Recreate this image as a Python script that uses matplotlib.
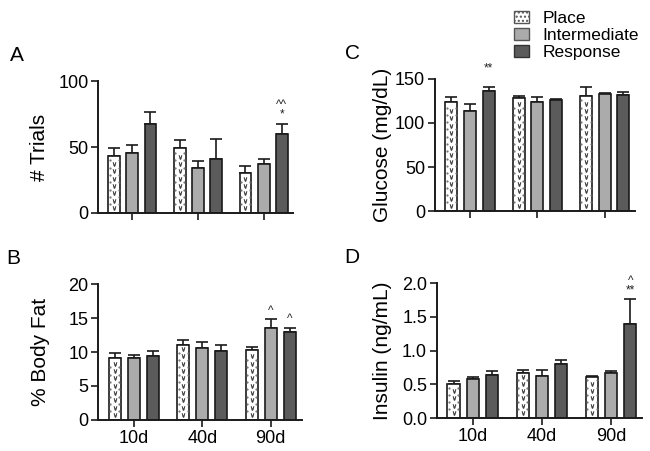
import numpy as np
import matplotlib.pyplot as plt
from matplotlib.patches import Patch

plt.rcParams['font.family'] = ['Liberation Sans', 'DejaVu Sans']

groups = ['10d', '40d', '90d']
series = ['Place', 'Intermediate', 'Response']

# panel A: # trials
trials_mean = {'Place': [43.2, 49.0, 30.4], 'Intermediate': [45.2, 33.9, 36.9], 'Response': [67.3, 41.2, 59.8]}
trials_err = {'Place': [5.8, 6.0, 5.0], 'Intermediate': [6.6, 5.8, 4.1], 'Response': [9.1, 14.8, 7.5]}

# panel B: % body fat
fat_mean = {'Place': [9.19, 11.1, 10.27], 'Intermediate': [9.19, 10.57, 13.6], 'Response': [9.43, 10.1, 12.9]}
fat_err = {'Place': [0.69, 0.7, 0.49], 'Intermediate': [0.44, 0.88, 1.3], 'Response': [0.67, 0.9, 0.7]}

# panel C: glucose
glu_mean = {'Place': [124.2, 128.4, 130.7], 'Intermediate': [113.6, 123.5, 133.3], 'Response': [136.0, 125.8, 131.8]}
glu_err = {'Place': [5.8, 1.9, 9.8], 'Intermediate': [7.4, 5.7, 0.7], 'Response': [4.5, 1.5, 3.0]}

# panel D: insulin
ins_mean = {'Place': [0.51, 0.663, 0.61], 'Intermediate': [0.58, 0.63, 0.663], 'Response': [0.64, 0.806, 1.40]}
ins_err = {'Place': [0.045, 0.047, 0.014], 'Intermediate': [0.034, 0.09, 0.037], 'Response': [0.06, 0.054, 0.36]}

colors = {'Place': 'white', 'Intermediate': '#ababab', 'Response': '#5b5b5b'}
edge = '#1a1a1a'
width = 0.18
step = 0.277


def draw(ax, mean, err, ymax, yticks, fmt, ylabel, letter, notes, xlabels, labx):
    pxu = ax.bbox.height / ymax  # pixels per data unit
    for i, s in enumerate(series):
        x = np.arange(len(groups)) + (i - 1) * step
        ax.bar(x, mean[s], width, color=colors[s], edgecolor=edge, linewidth=1.2, zorder=2)
        ax.errorbar(x, mean[s], yerr=[np.zeros(3), err[s]], fmt='none', ecolor=edge,
                    elinewidth=1.2, capsize=4, capthick=1.2, zorder=1)
        if s == 'Place':
            # chevron pattern inside the place bars
            for xi, h in zip(x, mean[s]):
                ys = np.arange(5.0, h * pxu - 3, 7.3) / pxu
                ax.scatter(np.full(len(ys), xi), ys, marker=r'$\vee$', s=8, color='#333333', zorder=3, linewidths=0.3)
                yd = np.arange(8.6, h * pxu - 3, 7.3) / pxu
                ax.scatter(np.full(len(yd), xi - width * 0.38), yd, marker='.', s=1.2, color='#666666', zorder=3)
                ax.scatter(np.full(len(yd), xi + width * 0.38), yd, marker='.', s=1.2, color='#666666', zorder=3)
    for gi, si, yv, txt in notes:
        ax.text(gi + (si - 1) * step, yv, txt, ha='center', va='bottom', fontsize=8.5, linespacing=0.75,
                color='#222222', clip_on=False)
    ax.set_ylim(0, ymax)
    ax.set_xlim(-0.52, 2.45)
    ax.set_yticks(yticks)
    ax.set_yticklabels([fmt.format(t) for t in yticks], fontsize=13)
    ax.set_xticks(range(3))
    ax.set_xticklabels(xlabels, fontsize=13)
    ax.tick_params(width=1.2, length=5, color=edge, pad=2)
    for sp in ['top', 'right']:
        ax.spines[sp].set_visible(False)
    for sp in ['left', 'bottom']:
        ax.spines[sp].set_linewidth(1.4)
        ax.spines[sp].set_color(edge)
    ax.set_ylabel(ylabel, fontsize=15)
    ax.yaxis.set_label_coords(labx, 0.5)
    ax.text(-0.45, 1.12, letter, transform=ax.transAxes, fontsize=15, va='bottom', ha='left')


fig = plt.figure(figsize=(6.5, 4.51), dpi=100)
axA = fig.add_axes([0.151, 0.528, 0.300, 0.292])
axC = fig.add_axes([0.669, 0.532, 0.308, 0.293])
axB = fig.add_axes([0.151, 0.069, 0.313, 0.301])
axD = fig.add_axes([0.672, 0.073, 0.316, 0.299])

draw(axA, trials_mean, trials_err, 100, [0, 50, 100], '{:g}', '# Trials', 'A',
     [(2, 2, 70, '^^\n*')], ['', '', ''], -0.251)
draw(axC, glu_mean, glu_err, 150, [0, 50, 100, 150], '{:g}', 'Glucose (mg/dL)', 'C',
     [(0, 2, 155, '**')], ['', '', ''], -0.215)
draw(axB, fat_mean, fat_err, 20, [0, 5, 10, 15, 20], '{:g}', '% Body Fat', 'B',
     [(2, 1, 15.2, '^'), (2, 2, 14.0, '^')], groups, -0.235)
draw(axD, ins_mean, ins_err, 2.0, [0.0, 0.5, 1.0, 1.5, 2.0], '{:.1f}', 'Insulin (ng/mL)', 'D',
     [(2, 2, 1.8, '^\n**')], groups, -0.22)

handles = [Patch(facecolor='white', edgecolor='#555555', hatch='....', label='Place'),
           Patch(facecolor=colors['Intermediate'], edgecolor='#555555', label='Intermediate'),
           Patch(facecolor=colors['Response'], edgecolor='#333333', label='Response')]
fig.legend(handles=handles, loc='upper left', bbox_to_anchor=(0.766, 1.01), frameon=False,
           fontsize=12.5, handlelength=0.9, handleheight=0.7, handletextpad=0.75, labelspacing=0.1)

fig.savefig('out.png', dpi=100)
